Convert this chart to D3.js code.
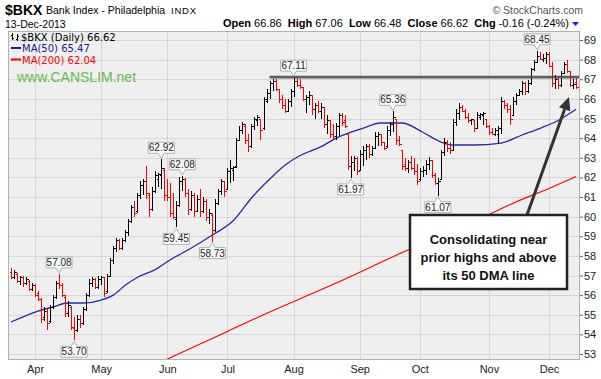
<!DOCTYPE html>
<html><head><meta charset="utf-8">
<script src="https://cdn.jsdelivr.net/npm/d3@7/dist/d3.min.js"></script>
<style>body{margin:0;background:#fff;} svg{display:block;font-family:"Liberation Sans",Arial,sans-serif;}</style>
</head><body><svg id="c" width="601" height="379"></svg>
<script>
// ---------------- DATA ----------------
const dates = [
"2013-03-19","2013-03-20","2013-03-21","2013-03-22","2013-03-25","2013-03-26","2013-03-27","2013-03-28",
"2013-04-01","2013-04-02","2013-04-03","2013-04-04","2013-04-05","2013-04-08","2013-04-09","2013-04-10","2013-04-11","2013-04-12","2013-04-15","2013-04-16","2013-04-17","2013-04-18","2013-04-19","2013-04-22","2013-04-23","2013-04-24","2013-04-25","2013-04-26","2013-04-29","2013-04-30",
"2013-05-01","2013-05-02","2013-05-03","2013-05-06","2013-05-07","2013-05-08","2013-05-09","2013-05-10","2013-05-13","2013-05-14","2013-05-15","2013-05-16","2013-05-17","2013-05-20","2013-05-21","2013-05-22","2013-05-23","2013-05-24","2013-05-28","2013-05-29","2013-05-30","2013-05-31",
"2013-06-03","2013-06-04","2013-06-05","2013-06-06","2013-06-07","2013-06-10","2013-06-11","2013-06-12","2013-06-13","2013-06-14","2013-06-17","2013-06-18","2013-06-19","2013-06-20","2013-06-21","2013-06-24","2013-06-25","2013-06-26","2013-06-27","2013-06-28",
"2013-07-01","2013-07-02","2013-07-03","2013-07-05","2013-07-08","2013-07-09","2013-07-10","2013-07-11","2013-07-12","2013-07-15","2013-07-16","2013-07-17","2013-07-18","2013-07-19","2013-07-22","2013-07-23","2013-07-24","2013-07-25","2013-07-26","2013-07-29","2013-07-30","2013-07-31",
"2013-08-01","2013-08-02","2013-08-05","2013-08-06","2013-08-07","2013-08-08","2013-08-09","2013-08-12","2013-08-13","2013-08-14","2013-08-15","2013-08-16","2013-08-19","2013-08-20","2013-08-21","2013-08-22","2013-08-23","2013-08-26","2013-08-27","2013-08-28","2013-08-29","2013-08-30",
"2013-09-03","2013-09-04","2013-09-05","2013-09-06","2013-09-09","2013-09-10","2013-09-11","2013-09-12","2013-09-13","2013-09-16","2013-09-17","2013-09-18","2013-09-19","2013-09-20","2013-09-23","2013-09-24","2013-09-25","2013-09-26","2013-09-27","2013-09-30",
"2013-10-01","2013-10-02","2013-10-03","2013-10-04","2013-10-07","2013-10-08","2013-10-09","2013-10-10","2013-10-11","2013-10-14","2013-10-15","2013-10-16","2013-10-17","2013-10-18","2013-10-21","2013-10-22","2013-10-23","2013-10-24","2013-10-25","2013-10-28","2013-10-29","2013-10-30","2013-10-31",
"2013-11-01","2013-11-04","2013-11-05","2013-11-06","2013-11-07","2013-11-08","2013-11-11","2013-11-12","2013-11-13","2013-11-14","2013-11-15","2013-11-18","2013-11-19","2013-11-20","2013-11-21","2013-11-22","2013-11-25","2013-11-26","2013-11-27","2013-11-29",
"2013-12-02","2013-12-03","2013-12-04","2013-12-05","2013-12-06","2013-12-09","2013-12-10","2013-12-11","2013-12-12","2013-12-13"];

const open = [57.2,56.9,57.1,56.7,56.9,56.6,56.7,56.3,
56.5,56.1,55.8,54.9,55.2,54.7,55.4,55.9,56.6,56.5,55.9,55.1,55.4,54.3,54.2,54.8,54.6,55.3,56.0,56.6,56.8,56.4,
56.8,56.9,56.2,57.0,57.8,58.4,58.8,58.4,58.8,59.2,59.8,60.5,60.3,61.1,61.6,61.8,61.1,60.4,61.3,61.9,62.1,62.4,
61.1,61.0,60.2,59.9,60.6,61.8,61.9,61.2,60.4,61.1,60.3,60.9,60.3,60.8,60.0,60.1,59.3,60.7,61.3,61.8,
61.4,62.3,62.4,62.6,63.9,64.4,64.6,63.9,63.6,64.6,64.9,65.0,64.5,65.9,66.3,66.8,66.9,66.5,66.0,65.7,65.4,65.9,
66.4,66.9,66.7,66.6,66.0,66.1,66.2,65.5,65.7,65.4,65.6,64.7,64.9,64.2,64.1,64.6,65.2,64.9,64.2,62.6,62.8,63.0,
62.4,63.2,63.4,63.6,63.2,63.5,64.1,64.2,63.8,63.6,64.4,64.7,65.0,63.9,63.4,62.7,62.5,62.8,62.5,62.3,
61.9,62.3,62.4,62.7,62.9,62.1,61.7,61.9,63.3,63.8,63.5,63.4,64.8,65.3,65.6,65.4,65.1,64.9,64.9,64.5,65.1,65.2,65.0,
64.6,64.3,64.2,64.2,64.5,65.9,65.7,65.5,65.2,65.9,66.2,66.4,66.8,66.4,66.8,67.5,67.9,68.2,68.05,68.1,
68.3,67.7,66.8,67.0,66.7,67.3,67.8,67.4,66.7,66.86];

const high = [57.4,57.3,57.15,57.0,56.95,56.9,56.75,56.6,
56.55,56.2,55.85,55.4,55.3,55.5,56.0,56.7,57.08,56.6,56.0,55.7,55.45,54.9,55.0,55.0,55.4,56.1,56.8,56.9,56.85,57.0,
57.0,56.9,57.1,57.9,58.5,58.9,58.85,58.9,59.3,59.9,60.6,60.8,61.2,61.8,61.9,62.6,61.2,61.5,62.3,62.2,62.92,62.5,
61.9,61.7,61.2,60.8,62.0,62.08,61.95,61.4,61.3,61.2,61.1,61.4,61.0,60.9,60.4,60.2,60.9,61.4,61.9,61.8,
62.5,62.9,62.6,64.0,64.6,64.8,64.7,64.2,64.7,65.1,65.2,65.0,66.1,66.5,66.9,67.0,67.0,66.5,66.2,66.0,66.0,66.5,
67.11,67.05,67.0,66.6,66.2,66.4,66.2,65.8,65.9,65.8,65.6,65.2,64.9,64.7,64.75,65.3,65.3,65.2,64.2,63.1,63.1,63.06,
63.4,63.6,63.7,63.7,63.6,64.3,64.3,64.2,63.8,64.6,64.8,65.36,65.0,64.1,63.4,62.97,62.9,63.1,62.97,62.7,
62.5,62.6,62.9,63.06,62.9,62.2,61.95,63.4,64.0,63.9,63.8,65.0,65.5,65.77,65.7,65.5,65.3,65.0,64.9,65.35,65.3,65.35,65.0,
64.67,64.5,64.5,64.6,66.1,65.95,65.8,65.69,66.1,66.3,66.5,66.9,66.85,66.96,67.55,68.0,68.45,68.4,68.3,68.4,
68.4,67.9,67.2,67.1,67.4,67.9,67.98,67.4,67.0,67.06];

const low = [56.8,56.8,56.6,56.5,56.4,56.5,56.2,56.2,
55.9,55.7,54.6,54.7,54.2,54.6,55.3,55.8,56.3,55.9,54.9,54.9,54.2,53.70,54.1,54.3,54.5,55.2,55.9,56.4,56.3,56.3,
56.5,55.9,56.1,56.9,57.6,58.2,58.3,58.3,58.7,59.0,59.7,60.0,60.2,60.9,61.1,60.9,60.0,60.3,61.2,61.5,61.4,60.8,
60.8,60.0,59.9,59.45,60.5,61.3,61.0,60.1,60.3,60.0,60.3,60.0,60.2,59.8,59.6,58.73,59.2,60.6,61.1,61.0,
61.4,61.7,61.8,62.5,63.9,64.2,63.7,63.3,63.5,64.4,64.6,63.9,64.4,65.8,66.0,66.4,66.4,65.8,65.5,65.3,65.4,65.6,
66.1,66.6,66.5,65.9,65.3,65.7,65.2,65.0,65.3,65.0,64.5,64.2,64.0,63.9,63.9,64.1,64.6,64.5,62.4,61.97,62.3,62.1,
62.3,62.6,62.9,63.0,63.1,63.5,63.6,63.6,63.4,63.5,64.1,64.3,63.65,63.6,62.4,62.3,62.2,62.4,62.1,61.6,
61.8,62.0,62.1,62.4,61.95,61.6,61.07,61.9,63.1,63.3,63.2,63.4,64.6,64.9,65.35,65.0,64.75,64.67,64.33,64.5,64.9,64.67,64.5,
64.16,64.16,64.1,63.7,64.2,65.5,65.3,64.67,65.2,65.69,66.2,66.2,66.2,66.3,66.7,67.4,67.9,67.98,67.9,67.8,
67.6,66.6,66.5,66.5,66.6,67.3,67.3,66.6,66.5,66.48];

const close = [56.9,57.2,56.7,56.9,56.6,56.8,56.3,56.5,
56.0,55.8,54.8,55.2,54.6,55.4,55.9,56.6,56.5,56.0,55.1,55.5,54.4,54.2,54.8,54.6,55.3,56.0,56.6,56.8,56.4,56.8,
56.9,56.1,57.0,57.8,58.4,58.8,58.4,58.8,59.2,59.8,60.5,60.2,61.1,61.6,61.8,61.2,60.4,61.3,62.1,62.15,62.5,61.1,
61.0,60.2,60.0,60.6,61.8,61.9,61.2,60.4,61.1,60.3,60.9,60.3,60.8,60.0,60.2,59.3,60.7,61.3,61.8,61.3,
62.3,62.5,62.55,63.9,64.4,64.7,63.9,63.6,64.6,65.0,65.1,64.4,66.0,66.3,66.8,66.9,66.5,66.0,65.7,65.4,65.9,66.4,
66.9,66.7,66.6,66.0,66.1,66.2,65.5,65.7,65.4,65.6,64.7,64.9,64.2,64.1,64.6,65.2,64.8,64.6,62.6,62.8,63.0,62.3,
63.2,63.4,63.6,63.2,63.5,64.1,64.2,63.8,63.5,64.4,64.7,65.1,63.9,63.7,62.6,62.5,62.8,62.5,62.3,61.8,
62.3,62.4,62.7,62.9,62.1,61.7,61.8,63.3,63.8,63.5,63.4,64.8,65.3,65.6,65.4,65.1,64.9,64.95,64.5,65.2,65.25,65.3,64.6,
64.3,64.2,64.4,64.5,65.9,65.7,65.5,65.0,65.9,66.2,66.4,66.8,66.4,66.8,67.5,67.9,68.2,68.05,68.1,68.3,
67.7,66.8,67.0,66.7,67.3,67.8,67.4,66.7,66.78,66.62];

// moving averages (bar index, value)
const ma50Idx = [0,9,14,19,24,30,34,38,42,48,53,60,67,74,80,86,91,96,103,109,117,123,130,137,143,147,154,163,170,176,182,188];
const ma50Val = [54.63,55.19,55.4,55.6,55.6,55.75,56.0,56.5,56.9,57.3,57.8,58.4,59.06,59.8,60.95,61.9,62.6,63.1,63.55,64.06,64.5,64.77,64.77,64.3,63.8,63.65,63.65,63.75,64.16,64.5,64.9,65.47];
const ma200Idx = [50,60,72,84,96,108,120,132,144,156,168,180,188];
const ma200Val = [52.6,53.3,54.15,55.0,55.8,56.6,57.45,58.3,59.1,59.9,60.75,61.5,62.04];

const yTicks = [53,54,55,56,57,58,59,60,61,62,63,64,65,66,67,68,69];
const monthNames = ["Jan","Feb","Mar","Apr","May","Jun","Jul","Aug","Sep","Oct","Nov","Dec"];

// callout labels: bar index, value, side
const calloutIdx = [16,21,50,57,55,67,94,127,113,142,175];
const calloutVal = [57.08,53.70,62.92,62.08,59.45,58.73,67.11,65.36,61.97,61.07,68.45];
const calloutSide = ["up","down","up","up","down","down","up","up","down","down","up"];

const resistanceLevel = 67.11;
const resistanceFrom = 86;
const noteLines = ["Consolidating near","prior highs and above","its 50 DMA line"];

// ---------------- CHART ----------------
const svg = d3.select("#c");
const P = {l:8, r:580, t:31, b:360};
const x = d3.scaleLinear().domain([0, dates.length-1]).range([11, 11+3.006*(dates.length-1)]);
const y = d3.scaleLinear().domain([53,69]).range([354,40]);

// header
const hdr = svg.append("g");
hdr.append("text").attr("x",5).attr("y",15).attr("font-size",14).attr("font-weight","bold").text("$BKX");
hdr.append("text").attr("x",46).attr("y",14).attr("font-size",10.5).text("Bank Index - Philadelphia");
hdr.append("text").attr("x",171).attr("y",14).attr("font-size",9.5).attr("letter-spacing",0.8).text("INDX");
hdr.append("text").attr("x",5).attr("y",27.5).attr("font-size",10.5).text("13-Dec-2013");
hdr.append("text").attr("x",583).attr("y",14).attr("text-anchor","end").attr("font-size",10.5).attr("fill","#555").text("\u00A9 StockCharts.com");
const last = dates.length-1;
const chg = close[last]-close[last-1];
const ohlc = hdr.append("text").attr("x",569).attr("y",27).attr("text-anchor","end").attr("font-size",11);
[["Open ",open[last].toFixed(2)],["  High ",high[last].toFixed(2)],["  Low ",low[last].toFixed(2)],["  Close ",close[last].toFixed(2)],["  Chg ",chg.toFixed(2)+" ("+(chg/close[last-1]*100).toFixed(2)+"%)"]]
 .forEach(([k,v])=>{ohlc.append("tspan").attr("font-weight","bold").attr("xml:space","preserve").text(k);ohlc.append("tspan").text(v);});
hdr.append("path").attr("d","M572,22 L579,22 L575.5,26 Z").attr("fill","#1a1aff");

// plot background
svg.append("rect").attr("x",P.l).attr("y",P.t).attr("width",P.r-P.l).attr("height",P.b-P.t).attr("fill","#efefef");

// grid
const grid = svg.append("g").attr("shape-rendering","crispEdges");
grid.selectAll("line.h").data(yTicks).join("line").attr("x1",P.l).attr("x2",P.r)
  .attr("y1",d=>Math.round(y(d))+0.5).attr("y2",d=>Math.round(y(d))+0.5).attr("stroke","#d6d6d6");
const monthStarts = [];
dates.forEach((d,i)=>{ if(i>0 && d.slice(5,7)!==dates[i-1].slice(5,7)) monthStarts.push(i); });
grid.selectAll("line.v").data(monthStarts).join("line").attr("y1",P.t).attr("y2",P.b)
  .attr("x1",i=>Math.round(x(i))+0.5).attr("x2",i=>Math.round(x(i))+0.5).attr("stroke","#d6d6d6");

// clip
svg.append("clipPath").attr("id","pc").append("rect").attr("x",P.l).attr("y",P.t).attr("width",P.r-P.l).attr("height",P.b-P.t);
const plot = svg.append("g").attr("clip-path","url(#pc)");

// moving averages
const line = d3.line().x(d=>x(d[0])).y(d=>y(d[1])).curve(d3.curveMonotoneX);
plot.append("path").datum(ma200Idx.map((d,i)=>[d,ma200Val[i]])).attr("d",line).attr("fill","none").attr("stroke","#ff0000").attr("stroke-width",1.1);
plot.append("path").datum(ma50Idx.map((d,i)=>[d,ma50Val[i]])).attr("d",line).attr("fill","none").attr("stroke","#2b2b9c").attr("stroke-width",1.3);

// OHLC bars
const bars = plot.append("g").attr("shape-rendering","crispEdges");
dates.forEach((d,i)=>{
  const up = i===0 ? close[i]>=open[i] : close[i]>=close[i-1];
  const c = up ? "#000" : "#ff0000";
  const xi = Math.round(x(i))+0.5;
  const g = bars.append("g").attr("stroke",c).attr("stroke-width",1);
  g.append("line").attr("x1",xi).attr("x2",xi).attr("y1",y(high[i])).attr("y2",y(low[i]));
  g.append("line").attr("x1",xi-2).attr("x2",xi).attr("y1",Math.round(y(open[i]))+0.5).attr("y2",Math.round(y(open[i]))+0.5);
  g.append("line").attr("x1",xi).attr("x2",xi+2).attr("y1",Math.round(y(close[i]))+0.5).attr("y2",Math.round(y(close[i]))+0.5);
});

// resistance line
plot.append("line").attr("x1",x(resistanceFrom)).attr("x2",P.r).attr("y1",y(resistanceLevel)).attr("y2",y(resistanceLevel))
  .attr("stroke","#454545").attr("stroke-width",2.6).attr("stroke-opacity",0.85);

// callouts
const co = svg.append("g");
calloutIdx.forEach((idx,k)=>{
  const v = calloutVal[k], side = calloutSide[k];
  const cx = x(idx), py = y(v);
  const txt = v.toFixed(2);
  const w = 26, h = 11;
  const top = side==="up" ? py-6-h : py+6;
  const bx = cx - w/2;
  let d;
  if(side==="up") d = `M${bx},${top} H${bx+w} V${top+h} H${cx+3} L${cx},${py-1} L${cx-3},${top+h} H${bx} Z`;
  else d = `M${bx},${top} H${cx-3} L${cx},${py+1} L${cx+3},${top} H${bx+w} V${top+h} H${bx} Z`;
  co.append("path").attr("d",d).attr("fill","#fafafa").attr("stroke","#a7b5b0").attr("stroke-width",1);
  co.append("text").attr("x",cx).attr("y",top+h-2).attr("text-anchor","middle").attr("font-size",10).attr("fill","#222").text(txt);
});

// legend
const lg = svg.append("g").attr("font-family","'DejaVu Sans',Verdana,sans-serif").attr("font-size",10);
const ic = lg.append("g").attr("stroke","#000").attr("shape-rendering","crispEdges");
ic.append("line").attr("x1",12.5).attr("x2",12.5).attr("y1",33).attr("y2",40);
ic.append("line").attr("x1",11).attr("x2",12.5).attr("y1",35.5).attr("y2",35.5);
ic.append("line").attr("x1",12.5).attr("x2",14).attr("y1",38.5).attr("y2",38.5);
ic.append("line").attr("x1",17.5).attr("x2",17.5).attr("y1",34).attr("y2",41);
ic.append("line").attr("x1",16).attr("x2",17.5).attr("y1",39.5).attr("y2",39.5);
ic.append("line").attr("x1",17.5).attr("x2",19).attr("y1",36.5).attr("y2",36.5);
lg.append("text").attr("x",21).attr("y",40.5).attr("fill","#000").text("$BKX (Daily) "+close[last].toFixed(2));
lg.append("line").attr("x1",11).attr("x2",21).attr("y1",48).attr("y2",48).attr("stroke","#1a1a8a").attr("stroke-width",2);
lg.append("text").attr("x",22).attr("y",52).attr("fill","#1a1a8a").text("MA(50) "+ma50Val[ma50Val.length-1].toFixed(2));
lg.append("line").attr("x1",11).attr("x2",21).attr("y1",59.5).attr("y2",59.5).attr("stroke","#ff0000").attr("stroke-width",2);
lg.append("text").attr("x",22).attr("y",63.5).attr("fill","#ff0000").text("MA(200) "+ma200Val[ma200Val.length-1].toFixed(2));
svg.append("text").attr("x",17).attr("y",82).attr("font-size",14).attr("fill","#66bb44").text("www.CANSLIM.net");

// border
svg.append("rect").attr("x",P.l+0.5).attr("y",P.t+0.5).attr("width",P.r-P.l-1).attr("height",P.b-P.t-1)
  .attr("fill","none").attr("stroke","#a4b8b8").attr("stroke-width",1);

// axes
const yAxis = d3.axisRight(y).tickValues(yTicks).tickSize(3).tickFormat(d3.format("d"));
const ya = svg.append("g").attr("transform",`translate(${P.r},0)`).call(yAxis);
ya.select(".domain").remove();
ya.selectAll("line").attr("stroke","#666");
ya.selectAll("text").attr("font-size",11).attr("fill","#222").attr("font-family","'Liberation Sans',Arial,sans-serif").attr("x",4);

const xAxis = d3.axisBottom(x).tickValues(monthStarts).tickSize(0).tickFormat(i=>monthNames[+dates[i].slice(5,7)-1]);
const xa = svg.append("g").attr("transform",`translate(0,${P.b})`).call(xAxis);
xa.select(".domain").remove();
xa.selectAll("text").attr("font-size",11).attr("fill","#222").attr("font-family","'Liberation Sans',Arial,sans-serif").attr("dy","0.9em");

// annotation box and arrow
const ann = svg.append("g");
const boxX=410, boxY=215, boxW=157, boxH=74;
const tipX = 569, tipY = 97, tailX = 527, tailY = boxY;
const ang = Math.atan2(tipY-tailY, tipX-tailX);
const hl = 13, hw = 6;
const bxp = tipX - hl*Math.cos(ang), byp = tipY - hl*Math.sin(ang);
ann.append("line").attr("x1",tailX).attr("y1",tailY).attr("x2",bxp).attr("y2",byp).attr("stroke","#333").attr("stroke-width",3);
ann.append("path").attr("d",`M${tipX},${tipY} L${bxp+hw*Math.sin(ang)},${byp-hw*Math.cos(ang)} L${bxp-hw*Math.sin(ang)},${byp+hw*Math.cos(ang)} Z`).attr("fill","#333");
ann.append("rect").attr("x",boxX).attr("y",boxY).attr("width",boxW).attr("height",boxH).attr("fill","#fff").attr("stroke","#222").attr("stroke-width",2.5);
ann.selectAll("text.n").data(noteLines).join("text").attr("x",boxX+boxW/2).attr("y",(d,i)=>244+i*18)
  .attr("text-anchor","middle").attr("font-size",13).attr("font-weight","bold").attr("fill","#111").text(d=>d);
</script></body></html>
